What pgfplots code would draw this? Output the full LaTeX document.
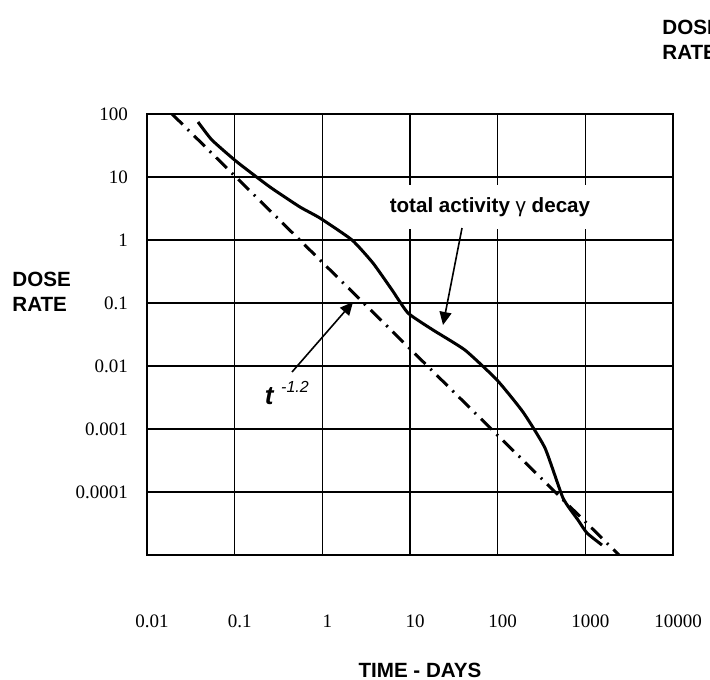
\documentclass[border=0pt]{standalone}
\usepackage{pgfplots}
\pgfplotsset{compat=1.18}
\usepackage{fontspec}
\setmainfont{Liberation Serif}
\newfontfamily\arial{Liberation Sans}
\usetikzlibrary{arrows.meta}

\begin{document}
\begin{tikzpicture}
% one pixel of the reference = 0.5pt
\begin{axis}[
    at={(0,0)}, anchor=south west,
    scale only axis, width=263pt, height=220.5pt,
    xmode=log, ymode=log,
    xmin=0.01, xmax=10000, ymin=1e-5, ymax=100,
    xtick={0.01,0.1,1,10,100,1000,10000},
    xticklabels={0.01,0.1,1,10,100,1000,10000},
    xticklabel style={font=\fontsize{9.5}{11}\selectfont, xshift=2.5pt, yshift=-26.5pt},
    ytick={1e-4,1e-3,1e-2,0.1,1,10,100},
    yticklabels={0.0001,0.001,0.01,0.1,1,10,100},
    yticklabel style={font=\fontsize{9.5}{11}\selectfont, xshift=-6pt},
    major tick length=0pt, minor tick length=0pt,
    grid=major, major grid style={black, line width=0.8pt},
    axis line style={line width=1.3pt},
    clip=false,
]

% t^-1.2
\addplot[black, line width=1.5pt, dash pattern=on 7.5pt off 3.5pt on 1pt off 3.5pt]
    coordinates {(0.0193,100) (2420,1e-5)};

% total activity
\addplot[black, line width=1.5pt, smooth, tension=0.3] coordinates {
    (0.0382,74.6) (0.0551,38.6) (0.1065,17.3) (0.253,6.93) (0.556,3.34)
    (0.94,2.23) (2.18,1.0) (3.78,0.431) (6.24,0.161) (9.49,0.0693)
    (18.3,0.0373) (42.4,0.0179) (98.2,0.0060) (194.5,0.00186)
    (346.7,0.000499) (556,8.04e-5) (824,3.6e-5) (1045,2.23e-5) (1549,1.44e-5)
};

\node[fill=white, inner xsep=2pt, inner ysep=6pt,
      font=\arial\bfseries\fontsize{10.3}{12}\selectfont]
    at (axis cs:81.7,3.34) {total activity {\mdseries γ} decay};
\draw[-{Triangle[length=6.5pt,width=6pt]}, line width=0.8pt]
    (axis cs:39.2,1.55) -- (axis cs:23.8,0.0448);

\node[font=\arial\bfseries\itshape\fontsize{13}{14}\selectfont]
    at (axis cs:0.247,0.00334) {t};
\node[font=\arial\itshape\fontsize{8}{9}\selectfont]
    at (axis cs:0.488,0.00464) {-1.2};
\draw[-{Triangle[length=6.5pt,width=6pt]}, line width=0.8pt]
    (axis cs:0.451,0.00803) -- (axis cs:2.24,0.1038);
\end{axis}

% labels placed in reference pixels
\begin{scope}[x=0.5pt, y=-0.5pt, shift={(-147,-555)}]
\node[font=\arial\bfseries\fontsize{10.3}{12}\selectfont] at (420,670) {TIME - DAYS};
\node[anchor=west, align=left, inner sep=0pt,
      font=\arial\bfseries\fontsize{10.3}{12.5}\selectfont] at (12,292) {DOSE\\RATE};
% cut off at the right edge, as in the reference
\node[anchor=west, align=left, inner sep=0pt,
      font=\arial\bfseries\fontsize{10.3}{12.5}\selectfont] at (662,40) {DOSE\\RATE};
\pgfresetboundingbox
\path[use as bounding box] (0,0) rectangle (710,679);
\end{scope}
\end{tikzpicture}
\end{document}
